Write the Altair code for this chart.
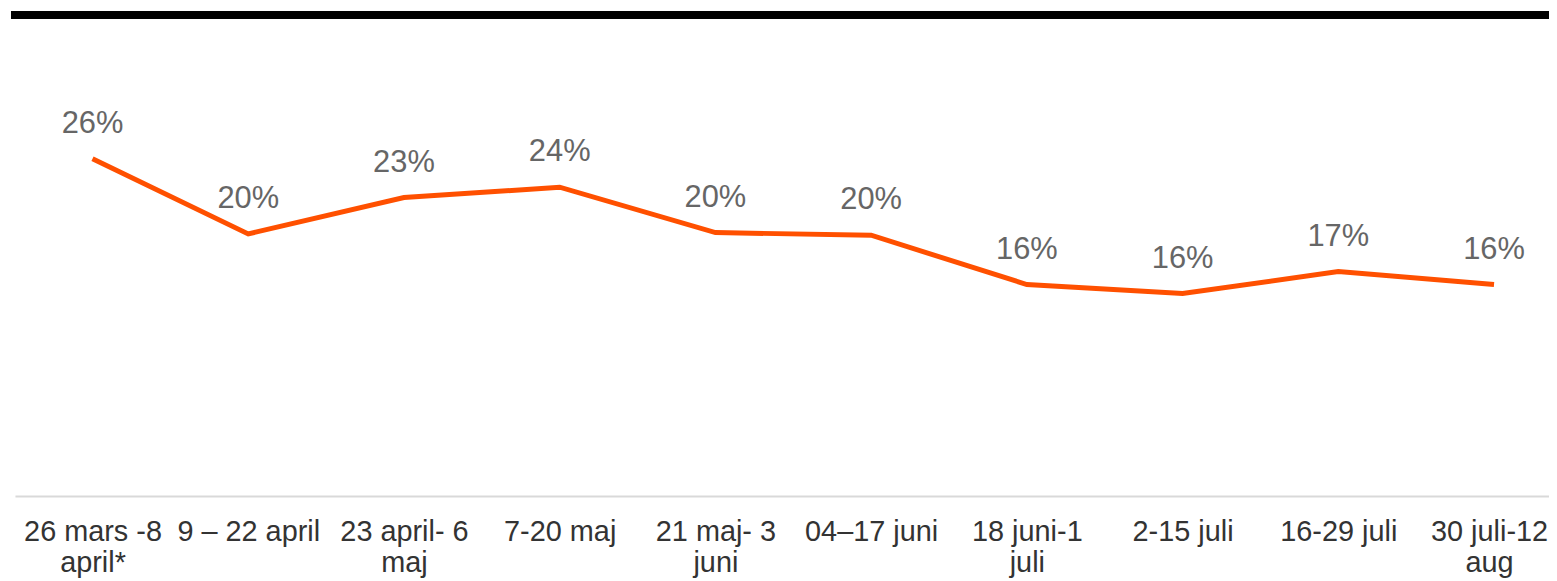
import altair as alt
import pandas as pd
import json

periods = [
    "26 mars -8\napril*",
    "9 – 22 april",
    "23 april- 6\nmaj",
    "7-20 maj",
    "21 maj- 3\njuni",
    "04–17 juni",
    "18 juni-1\njuli",
    "2-15 juli",
    "16-29 juli",
    "30 juli-12\naug",
]
values = [26.0, 20.2, 23.0, 23.8, 20.3, 20.1, 16.3, 15.6, 17.3, 16.3]
labels = ["26%", "20%", "23%", "24%", "20%", "20%", "16%", "16%", "17%", "16%"]

df = pd.DataFrame({
    "idx": list(range(len(periods))),
    "period": periods,
    "value": values,
    "label": labels,
})

W = 1542
H = 489
FONT = "Liberation Sans"
LAST = len(periods) - 1

label_expr = "split(" + json.dumps(periods, ensure_ascii=False) + "[datum.value], '\\n')"

x = alt.X(
    "idx:Q",
    scale=alt.Scale(domain=[-0.498, 9.353], nice=False, zero=False),
    axis=alt.Axis(
        title=None,
        values=list(range(len(periods))),
        labelAngle=0,
        ticks=False,
        grid=False,
        domainColor="#D9D9D9",
        domainWidth=2,
        labelFont=FONT,
        labelFontSize=29,
        labelColor="#333333",
        labelPadding=22,
        labelLineHeight=31,
        labelBaseline="top",
        labelAlign="center",
        labelOffset={"condition": {"test": f"datum.value == {LAST}", "value": -5}, "value": 0},
        labelExpr=label_expr,
        labelOverlap=False,
        labelFlush=False,
        labelBound=False,
        labelLimit=400,
    ),
)
y = alt.Y("value:Q", scale=alt.Scale(domain=[0, 37.5]), axis=None)

base = alt.Chart(df)

line = base.mark_line(color="#FF5000", strokeWidth=5).encode(x=x, y=y)
text = base.mark_text(
    dy=-35, font=FONT, fontSize=31, color="#666666", baseline="middle"
).encode(x=x, y=y, text="label:N")

bar = alt.Chart(pd.DataFrame({"a": [0]})).mark_rule(
    color="#000000", strokeWidth=8, clip=False
).encode(x=alt.value(-4), x2=alt.value(W + 20), y=alt.value(5.5))

chart = (
    alt.layer(bar, line, text)
    .properties(
        width=W,
        height=H,
        padding={"left": 7, "top": 0, "right": 0, "bottom": 84},
        autosize=alt.AutoSizeParams(type="none"),
        view=alt.ViewBackground(stroke="transparent", strokeWidth=0),
    )
    .configure_view(stroke="transparent", strokeWidth=0)
    .configure(background="white")
)

chart.save("out.html", embed_options={"renderer": "svg", "actions": False})
